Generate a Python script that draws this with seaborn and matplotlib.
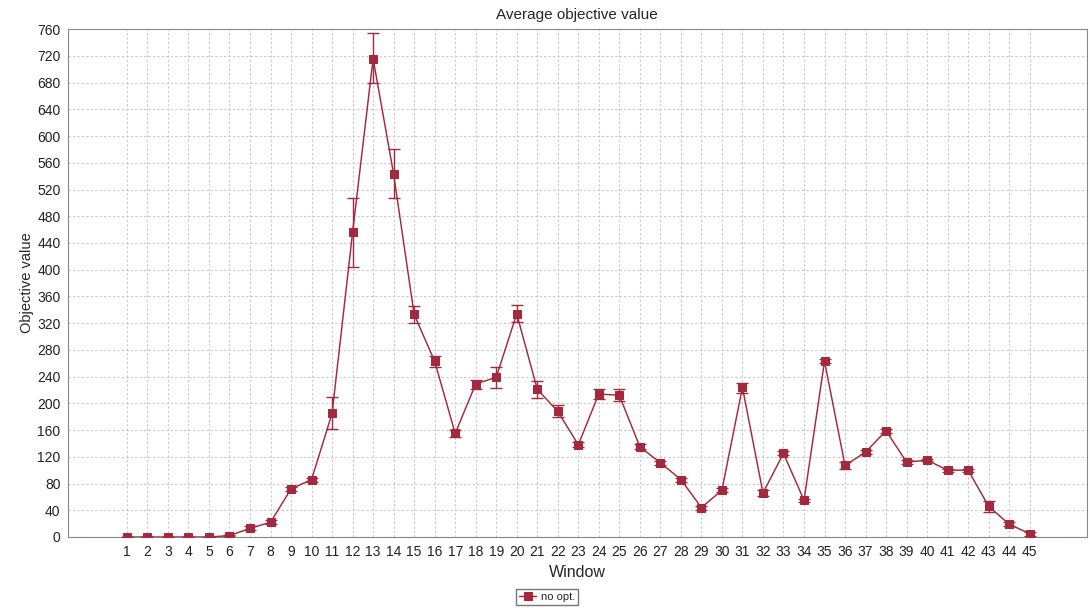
# Average objective value per window, with error bars

import matplotlib
matplotlib.use('Agg')
import matplotlib.pyplot as plt
import numpy as np
import pandas as pd
import seaborn as sns

windows = list(range(1, 46))
avg_value = [0, 0, 0, 0, 0, 2, 13, 22, 72, 86,
             185, 456, 716, 543, 333, 263, 155, 229, 239, 334,
             221, 188, 138, 214, 212, 135, 111, 86, 44, 70,
             224, 66, 125, 55, 263, 107, 127, 159, 112, 115,
             100, 100, 46, 19, 5]
err_low = [0, 0, 0, 0, 0, 1, 3, 3, 3, 3,
           24, 52, 37, 36, 12, 8, 6, 7, 16, 12,
           13, 8, 4, 8, 9, 4, 3, 3, 3, 3,
           8, 5, 3, 2, 3, 5, 3, 3, 3, 2,
           2, 2, 9, 3, 3]
err_high = [0, 0, 0, 0, 0, 1, 3, 3, 3, 3,
            25, 52, 38, 37, 13, 8, 5, 6, 15, 13,
            13, 9, 4, 8, 9, 4, 3, 3, 3, 3,
            7, 5, 3, 2, 3, 5, 3, 3, 3, 2,
            2, 2, 8, 3, 3]

data = pd.DataFrame({'Window': windows, 'Objective value': avg_value})

sns.set_style('white')
plt.rcParams['font.family'] = ['Liberation Sans', 'DejaVu Sans']

red = '#A3293F'
grid_col = '#c8c8c8'

fig, ax = plt.subplots(figsize=(10.9, 6.08), dpi=100)
fig.subplots_adjust(left=0.0624, right=0.997, bottom=0.1168, top=0.952)

sns.lineplot(data=data, x='Window', y='Objective value', color=red, marker='s',
             markersize=6, markeredgecolor=red, linewidth=1.05, ax=ax,
             label='no opt.', legend=False, zorder=3)
# error bars drawn on top so the caps show either side of the small markers
ax.errorbar(windows, avg_value, yerr=[err_low, err_high], fmt='none',
            ecolor=red, elinewidth=1.0, capsize=4.2, capthick=1.0, zorder=4)

ax.set_xlim(-1.87, 47.78)
ax.set_ylim(0, 760)
ax.set_xticks(windows)
ax.set_xticklabels([str(w) for w in windows])
ax.set_yticks(np.arange(0, 761, 40))
ax.tick_params(axis='both', labelsize=10, colors='#222222', length=2, width=0.6)
ax.tick_params(axis='x', length=0, pad=6)

ax.grid(True, color=grid_col, linestyle=(0, (2, 2)), linewidth=0.8)
ax.set_axisbelow(True)
for s in ax.spines.values():
    s.set_color('#888888')
    s.set_linewidth(0.8)

ax.set_title('Average objective value', fontsize=11, pad=7)
ax.set_xlabel('Window', fontsize=11.5, labelpad=4)
ax.set_ylabel('Objective value', fontsize=10.5, labelpad=2)

handles, labels = ax.get_legend_handles_labels()
fig.legend(handles, labels, loc='center', bbox_to_anchor=(0.502, 0.018),
           fontsize=8, frameon=True, fancybox=False, edgecolor='#555555',
           handlelength=1.5, handletextpad=0.4, borderpad=0.3,
           borderaxespad=0)

fig.savefig('out.png', dpi=100)
